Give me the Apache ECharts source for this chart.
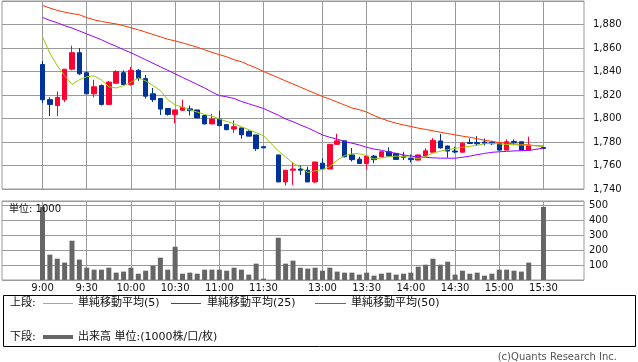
<!DOCTYPE html>
<html>
<head>
<meta charset="utf-8">
<script src="https://cdn.jsdelivr.net/npm/echarts@6/dist/echarts.min.js"></script>
<style>html,body{margin:0;padding:0;background:#fff}#c{width:638px;height:362px}</style>
</head>
<body>
<div id="c"></div>
<script>
const times = ['9:00','9:05','9:10','9:15','9:20','9:25','9:30','9:35','9:40','9:45','9:50','9:55','10:00','10:05','10:10','10:15','10:20','10:25','10:30','10:35','10:40','10:45','10:50','10:55','11:00','11:05','11:10','11:15','11:20','11:25','11:30','12:25','12:30','12:35','12:40','12:45','12:50','12:55','13:00','13:05','13:10','13:15','13:20','13:25','13:30','13:35','13:40','13:45','13:50','13:55','14:00','14:05','14:10','14:15','14:20','14:25','14:30','14:35','14:40','14:45','14:50','14:55','15:00','15:05','15:10','15:15','15:20','15:25','15:30'];
const xLabels = ['9:00','9:30','10:00','10:30','11:00','11:30','13:00','13:30','14:00','14:30','15:00','15:30'];
const open = [1846,1816,1811,1816,1842,1856,1839,1821,1828,1812,1830,1839,1829,1841,1834,1821,1817,1808.5,1803.5,1807,1808.2,1807.3,1802.5,1795.4,1799.6,1794.8,1791,1792,1789,1786,1776,null,1769,1746,1756,1757,1756,1746,1762,1757,1778,1781,1769,1765.4,1761.7,1768,1767.4,1771.7,1770.3,1768,1766,1764.6,1768,1771.3,1780.9,1776.6,1772.3,1771.3,1779.5,1779.5,1780,1779.5,1779,1773.1,1780.5,1780.2,1773.1,null,1775.3];
const close = [1816,1812,1818,1842,1856,1838,1821,1827,1812,1831,1840,1829,1841,1834,1819,1816,1808,1803.5,1807.3,1809.5,1806.7,1800.5,1795.4,1799.6,1794,1790.5,1793,1786.2,1785,1774.3,1775,null,1746,1756,1757,1756,1746,1763,1757,1778,1781,1767.4,1765,1761.7,1768,1765,1771.7,1768,1765.2,1767,1765,1769,1772.5,1781.4,1775,1772.3,1771.5,1779,1778.7,1778.5,1779,1778.5,1773.1,1780.2,1779.7,1773.1,1777.4,null,1774.6];
const high = [1849,1818,1823,1842,1862,1860,1840,1833,1829,1832,1841,1841,1844,1842,1837,1826,1817.5,1809,1807.5,1816,1811,1807.5,1803,1804,1806.5,1795,1798.4,1792,1790,1786,1776,null,1769,1756,1763,1760,1759,1763,1766,1778,1787,1781,1775,1767.4,1768,1769,1772,1775.4,1770.5,1771.7,1769.4,1769,1774.6,1783.4,1786.8,1777,1776,1780,1783,1785,1783,1781,1779,1782.2,1782.2,1780.2,1784.5,null,1775.3];
const low = [1813,1802,1802,1814,1841,1837,1821,1818,1811,1812,1830,1828,1828,1832,1817,1814,1803,1802.5,1796,1806.5,1802.5,1800.5,1795,1795.4,1793.5,1790,1787.7,1782.8,1785,1772.5,1775,null,1746,1743,1743.5,1752,1746,1745,1757,1757,1777.5,1767,1763.4,1761.7,1756.6,1762,1767,1767.5,1765,1764.6,1762.6,1764.6,1768,1771.3,1774.5,1766.6,1770.5,1771.3,1778.5,1777,1777,1777.5,1773,1773,1777.4,1773,1773,null,1774.6];
const ma5 = [1869.5,1855.5,1845,1836.5,1829,1833,1835.5,1836.3,1832.8,1827,1826,1828,1830.8,1834.5,1832,1828,1823.8,1816,1811.6,1809.5,1807.5,1805.5,1803.5,1802,1799.6,1797.5,1795.5,1793,1790.5,1788,1785.3,null,1772.5,1767.3,1762,1758.5,1754,1755.4,1756.6,1759,1764.5,1768.5,1770,1770,1768.3,1765.5,1766.5,1767.5,1768,1767.5,1767,1765.8,1767.8,1770.5,1772.2,1773.5,1774.5,1775.5,1776.3,1777.2,1778.5,1778.8,1778.4,1777.9,1777.6,1777.4,1777.3,null,1776.2];
const ma25 = [1886,1883.5,1881.5,1879,1877,1874.5,1872,1869.5,1867,1864,1861.5,1858.5,1856,1853,1850,1847,1844,1841,1838,1835,1832,1829,1826,1822.5,1819.5,1818.5,1817,1814.5,1812.5,1810.5,1808.5,null,1802.8,1799.6,1797.3,1794.5,1792,1789,1786,1784,1782.5,1780.5,1779,1777.5,1775.5,1774,1773,1771.5,1770.3,1769,1768,1767.5,1767,1766.5,1766.3,1766.2,1766.2,1767,1768,1769.2,1770.3,1771.2,1771.7,1772,1772.4,1772.6,1772.8,null,1774.8];
const ma50 = [1896.2,1894,1892,1890.5,1889.3,1888.3,1885.8,1884,1882.6,1881.5,1880.5,1879,1877.2,1875.5,1873.5,1871.5,1869.5,1867.5,1866,1864.4,1862.5,1860.7,1858.5,1856.3,1854.4,1852.5,1850,1848.3,1845.5,1843,1840,null,1834.7,1832,1829.4,1826.7,1824,1821.4,1818.7,1816.5,1814,1811.5,1809,1807.5,1805.5,1802.5,1800,1797.8,1796,1794.5,1793.2,1791.8,1790.7,1789.5,1788.3,1787.2,1786.1,1785,1784,1782.8,1781.5,1780.5,1779.5,1779,1778.4,1778,1777.4,null,1776.5];
const vol = [488,169,142,116,262,136,82,69,69,82,49,56,82,42,62,96,149,69,222,42,49,42,69,69,69,62,82,69,36,109,9,null,282,109,129,82,76,82,62,82,56,49,49,36,49,29,42,49,36,42,49,89,102,142,102,122,36,62,42,49,29,42,69,69,62,56,116,null,487];

const PAD = 5;
const padNames = (p) => Array.from({length: PAD}, (_, i) => p + i);
const cats = padNames('_a').concat(times, padNames('_b'));
const padV = Array(PAD).fill('-');
const wrap = arr => padV.concat(arr.map(v => v == null ? '-' : v), padV);
const candles = padV.map(() => ['-','-','-','-']).concat(
  times.map((t, i) => open[i] == null ? ['-','-','-','-'] : [open[i], close[i], low[i], high[i]]),
  padV.map(() => ['-','-','-','-']));

const FONT = '"DejaVu Sans", "Noto Sans CJK JP", sans-serif';
const GRID = '#9a9a9a';
const vLines = xLabels.map(t => ({xAxis: t}));
const markV = {
  silent: true, animation: false, z: 0, symbol: ['none','none'],
  label: {show: false}, emphasis: {disabled: true},
  lineStyle: {color: GRID, width: 1, type: 'solid'},
  data: vLines
};
const fmtPrice = v => v >= 1900 ? '' : String(v).replace(/\B(?=(\d{3})+(?!\d))/g, ',');

const chart = echarts.init(document.getElementById('c'), null, {renderer: 'canvas'});
chart.setOption({
  backgroundColor: '#fff',
  animation: false,
  grid: [
    {left: 2, width: 582, top: 1, height: 188, show: true, borderColor: GRID, borderWidth: 1, backgroundColor: 'transparent'},
    {left: 2, width: 582, top: 201, height: 79, show: true, borderColor: GRID, borderWidth: 1, backgroundColor: 'transparent'}
  ],
  xAxis: [
    {type: 'category', gridIndex: 0, data: cats, boundaryGap: true,
     axisLine: {show: false}, axisTick: {show: false}, axisLabel: {show: false}, splitLine: {show: false}},
    {type: 'category', gridIndex: 1, data: cats, boundaryGap: true,
     axisLine: {show: false}, axisTick: {show: false}, splitLine: {show: false},
     axisLabel: {show: true, interval: (i, v) => xLabels.indexOf(v) >= 0, margin: 3,
                 color: '#111', fontSize: 10, fontFamily: FONT}}
  ],
  yAxis: [
    {type: 'value', gridIndex: 0, position: 'right', min: 1740, max: 1900, interval: 20,
     axisLine: {show: false}, axisTick: {show: false},
     splitLine: {show: true, lineStyle: {color: GRID, width: 1}},
     axisLabel: {margin: 9, color: '#111', fontSize: 10, fontFamily: FONT, formatter: fmtPrice}},
    {type: 'value', gridIndex: 1, position: 'right', min: 0, max: 527, interval: 100,
     axisLine: {show: false}, axisTick: {show: false},
     splitLine: {show: true, lineStyle: {color: GRID, width: 1}},
     axisLabel: {margin: 5, color: '#111', fontSize: 10, fontFamily: FONT,
                 formatter: v => (v >= 100 && v <= 500 && v % 100 === 0) ? String(v) : ''}}
  ],
  series: [
    {type: 'candlestick', xAxisIndex: 0, yAxisIndex: 0, data: candles, barWidth: 5,
     itemStyle: {color: '#ff0033', color0: '#003399', borderColor: '#ff0033', borderColor0: '#003399', borderWidth: 1},
     markLine: markV},
    {type: 'line', xAxisIndex: 0, yAxisIndex: 0, data: wrap(ma50), symbol: 'none', connectNulls: true,
     lineStyle: {color: '#ff3300', width: 1}},
    {type: 'line', xAxisIndex: 0, yAxisIndex: 0, data: wrap(ma25), symbol: 'none', connectNulls: true,
     lineStyle: {color: '#9900ff', width: 1}},
    {type: 'line', xAxisIndex: 0, yAxisIndex: 0, data: wrap(ma5), symbol: 'none', connectNulls: true,
     lineStyle: {color: '#99cc00', width: 1}},
    {type: 'bar', xAxisIndex: 1, yAxisIndex: 1, data: wrap(vol), barWidth: 5,
     itemStyle: {color: '#666666'}, markLine: markV}
  ],
  graphic: [
    {type: 'text', x: 9, y: 209, z: 100, style: {text: '単位: 1000', fill: '#111', font: '10px ' + FONT, verticalAlign: 'middle'}},
    {type: 'rect', shape: {x: 3.5, y: 295.5, width: 632, height: 51}, style: {fill: 'none', stroke: '#000', lineWidth: 1}},
    {type: 'text', x: 10, y: 303, style: {text: '上段:', fill: '#111', font: '11px ' + FONT, verticalAlign: 'middle'}},
    {type: 'line', shape: {x1: 43, y1: 303.5, x2: 73, y2: 303.5}, style: {stroke: '#99cc00', lineWidth: 1}},
    {type: 'text', x: 78, y: 303, style: {text: '単純移動平均(5)', fill: '#111', font: '11px ' + FONT, verticalAlign: 'middle'}},
    {type: 'line', shape: {x1: 171, y1: 303.5, x2: 201, y2: 303.5}, style: {stroke: '#9900ff', lineWidth: 1}},
    {type: 'text', x: 207, y: 303, style: {text: '単純移動平均(25)', fill: '#111', font: '11px ' + FONT, verticalAlign: 'middle'}},
    {type: 'line', shape: {x1: 315, y1: 303.5, x2: 346, y2: 303.5}, style: {stroke: '#ff3300', lineWidth: 1}},
    {type: 'text', x: 351, y: 303, style: {text: '単純移動平均(50)', fill: '#111', font: '11px ' + FONT, verticalAlign: 'middle'}},
    {type: 'text', x: 10, y: 337, style: {text: '下段:', fill: '#111', font: '11px ' + FONT, verticalAlign: 'middle'}},
    {type: 'line', shape: {x1: 43, y1: 337, x2: 73, y2: 337}, style: {stroke: '#666666', lineWidth: 4}},
    {type: 'text', x: 78, y: 337, style: {text: '出来高 単位:(1000株/口/枚)', fill: '#111', font: '11px ' + FONT, verticalAlign: 'middle'}},
    {type: 'text', x: 617, y: 357, style: {text: '(c)Quants Research Inc.', fill: '#555', font: '10px ' + FONT, align: 'right', verticalAlign: 'middle'}}
  ]
});
</script>
</body>
</html>
